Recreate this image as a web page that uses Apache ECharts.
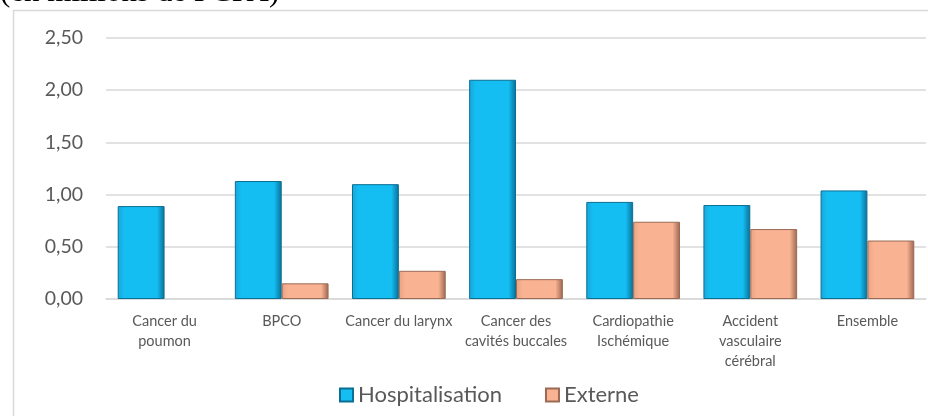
<!DOCTYPE html>
<html>
<head>
<meta charset="utf-8">
<script src="https://cdn.jsdelivr.net/npm/echarts@6/dist/echarts.min.js"></script>
<style>
  html, body { margin: 0; padding: 0; background: #fff; }
  #chart { width: 928px; height: 416px; }
</style>
</head>
<body>
<div id="chart"></div>
<script>
(function() {
  var categories = [
    'Cancer du\npoumon',
    'BPCO',
    'Cancer du larynx',
    'Cancer des\ncavités buccales',
    'Cardiopathie\nIschémique',
    'Accident\nvasculaire\ncérébral',
    'Ensemble'
  ];
  var hospitalisation = [0.89, 1.13, 1.10, 2.10, 0.93, 0.90, 1.04];
  // no outpatient value for lung cancer
  var externe = [null, 0.15, 0.27, 0.19, 0.74, 0.67, 0.56];

  var font = 'Lato, "Open Sans", sans-serif';
  var labelColor = '#595959';

  function bevel(edgeL, mid, edgeR) {
    return new echarts.graphic.LinearGradient(0, 0, 1, 0, [
      { offset: 0, color: edgeL },
      { offset: 0.14, color: mid },
      { offset: 0.84, color: mid },
      { offset: 1, color: edgeR }
    ]);
  }

  var chart = echarts.init(document.getElementById('chart'), null, { renderer: 'canvas' });

  chart.setOption({
    animation: false,
    graphic: [
      {
        type: 'rect',
        left: 11, top: 8,
        shape: { width: 930, height: 420 },
        style: { fill: 'none', stroke: '#d9d9d9', lineWidth: 1.5 },
        silent: true, z: -1
      },
      {
        type: 'text',
        left: 0, top: -23,
        style: { text: '(en millions de FCFA)', font: '31px "Liberation Serif", "DejaVu Serif", serif', fill: '#000' }
      }
    ],
    grid: { left: 106, right: 2, top: 38, bottom: 117 },
    legend: {
      data: ['Hospitalisation', 'Externe'],
      bottom: 5,
      left: 334,
      itemWidth: 13,
      itemHeight: 13,
      itemGap: 43,
      icon: 'rect',
      textStyle: { color: labelColor, fontSize: 22, fontFamily: font }
    },
    xAxis: {
      type: 'category',
      data: categories,
      axisLine: { lineStyle: { color: '#d9d9d9', width: 1.5 } },
      axisTick: { show: false },
      axisLabel: {
        color: labelColor, fontSize: 14.5, fontFamily: font,
        lineHeight: 20, margin: 12, interval: 0
      }
    },
    yAxis: {
      type: 'value',
      min: 0, max: 2.5, interval: 0.5,
      axisLine: { show: false },
      axisTick: { show: false },
      splitLine: { lineStyle: { color: '#d9d9d9', width: 1.5 } },
      axisLabel: {
        color: labelColor, fontSize: 19.5, fontFamily: font, margin: 23,
        formatter: function(v) { return v.toFixed(2).replace('.', ','); }
      }
    },
    series: [
      {
        name: 'Hospitalisation',
        type: 'bar',
        data: hospitalisation,
        barGap: '0%',
        barCategoryGap: '20%',
        itemStyle: {
          color: bevel('#1aa6d8', '#14bdf2', '#0a6f95'),
          borderColor: '#0b6f94',
          borderWidth: 1
        }
      },
      {
        name: 'Externe',
        type: 'bar',
        data: externe,
        itemStyle: {
          color: bevel('#e8a283', '#fab392', '#9b6650'),
          borderColor: '#9a6a55',
          borderWidth: 1
        }
      }
    ]
  });
})();
</script>
</body>
</html>
